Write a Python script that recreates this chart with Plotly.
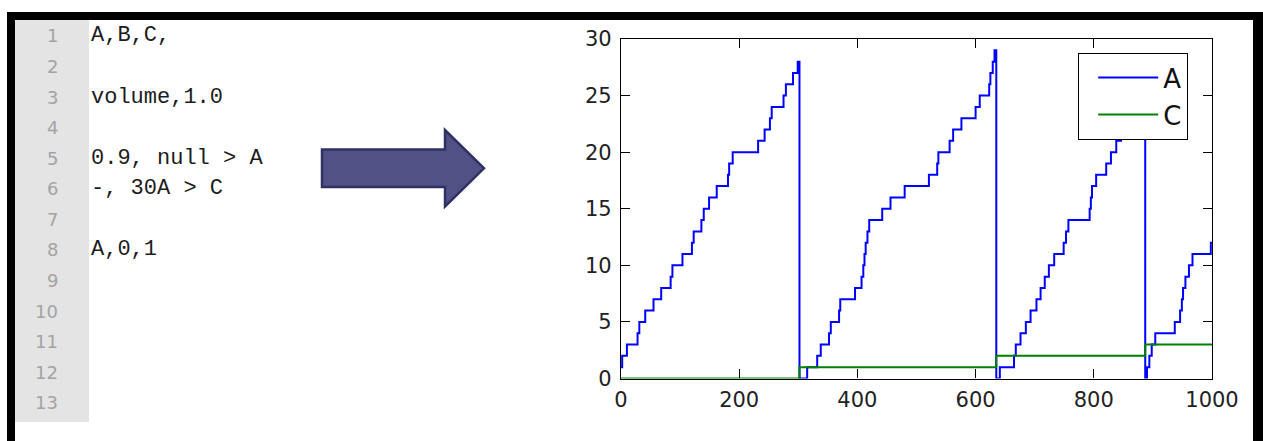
import plotly.graph_objects as go

# ---------------- data ----------------
a_time = [0, 2, 10, 28, 31, 41, 55, 68, 84, 87, 104, 120, 123, 136, 140, 149, 162, 181, 183, 189,
          232, 243, 252, 255, 275, 279, 291, 299, 302,
          315, 332, 338, 352, 355, 369, 371, 396, 407, 410, 412, 414, 417, 420, 442, 456, 480,
          521, 535, 537, 556, 562, 576, 600, 607, 623, 625, 629, 632, 635,
          641, 665, 668, 676, 685, 693, 703, 710, 717, 724, 733, 749, 753, 757, 793, 795, 797,
          804, 821, 829, 838, 846, 853, 859, 865, 870, 875, 880, 887,
          890, 894, 898, 904, 937, 946, 949, 951, 955, 961, 967, 998, 1000]
a_value = [1, 2, 3, 4, 5, 6, 7, 8, 9, 10, 11, 12, 13, 14, 15, 16, 17, 18, 19, 20,
           21, 22, 23, 24, 25, 26, 27, 28, 0,
           1, 2, 3, 4, 5, 6, 7, 8, 9, 10, 11, 12, 13, 14, 15, 16, 17,
           18, 19, 20, 21, 22, 23, 24, 25, 26, 27, 28, 29, 0,
           1, 2, 3, 4, 5, 6, 7, 8, 9, 10, 11, 12, 13, 14, 15, 16, 17,
           18, 19, 20, 21, 22, 23, 24, 25, 26, 27, 28, 0,
           1, 2, 3, 4, 5, 6, 7, 8, 9, 10, 11, 12, 12]
c_time = [0, 302, 635, 887, 1000]
c_value = [0, 1, 2, 3, 3]

x_ticks = [0, 200, 400, 600, 800, 1000]
y_ticks = [0, 5, 10, 15, 20, 25, 30]

code_lines = {1: "A,B,C,", 3: "volume,1.0", 5: "0.9, null > A", 6: "-, 30A > C", 8: "A,0,1"}
n_lines = 13

# ---------------- layout helpers ----------------
W, H = 1263, 441


def px(x):
    return x / W


def py(y):
    return 1 - y / H


fig = go.Figure()
fig.add_trace(go.Scatter(x=a_time, y=a_value, mode="lines", name="A", line_shape="hv",
                         line=dict(color="#0000ff", width=2)))
fig.add_trace(go.Scatter(x=c_time, y=c_value, mode="lines", name="C", line_shape="hv",
                         line=dict(color="#008000", width=2)))

shapes = []
# black frame
for x0, y0, x1, y1 in [(7, 12, 1263, 20), (7, 12, 15, 441), (1253, 12, 1263, 441)]:
    shapes.append(dict(type="rect", xref="paper", yref="paper", x0=px(x0), x1=px(x1),
                       y0=py(y1), y1=py(y0), fillcolor="black", line=dict(width=0), layer="above"))
# editor gutter
shapes.append(dict(type="rect", xref="paper", yref="paper", x0=px(15), x1=px(89),
                   y0=py(422), y1=py(20), fillcolor="#e4e4e4", line=dict(width=0), layer="below"))
# arrow
pts = [(322, 149.5), (445, 149.5), (445, 130), (484, 168.3), (445, 206.5), (445, 187), (322, 187)]
path = "M " + " L ".join(f"{px(x):.5f},{py(y):.5f}" for x, y in pts) + " Z"
shapes.append(dict(type="path", xref="paper", yref="paper", path=path,
                   fillcolor="#505185", line=dict(color="#2f3063", width=2.5), layer="above"))

annotations = []
for i in range(1, n_lines + 1):
    yc = 35 + (i - 1) * 30.56
    annotations.append(dict(xref="paper", yref="paper", x=px(60), y=py(yc + 1), xanchor="right",
                            yanchor="middle", text=str(i), showarrow=False,
                            font=dict(family="DejaVu Sans", size=18, color="#a3a3a3")))
    if i in code_lines:
        annotations.append(dict(xref="paper", yref="paper", x=px(89), y=py(yc + 1), xanchor="left",
                                yanchor="middle", text=code_lines[i], showarrow=False,
                                font=dict(family="Liberation Mono", size=22, color="#1c1c1c")))

fig.update_layout(
    template="none",
    width=W, height=H, autosize=False,
    margin=dict(l=0, r=0, t=0, b=0, pad=0),
    paper_bgcolor="white", plot_bgcolor="white",
    shapes=shapes, annotations=annotations,
    showlegend=True,
    legend=dict(x=px(1078), y=py(53), xanchor="left", yanchor="top",
                bgcolor="white", bordercolor="black", borderwidth=1.2,
                font=dict(family="DejaVu Sans", size=26, color="#111"),
                itemwidth=60, indentation=14, tracegroupgap=0,
                entrywidth=34, entrywidthmode="pixels"),
    xaxis=dict(domain=[px(621), px(1212)], range=[0, 1000], tickvals=x_ticks,
               showline=True, linecolor="black", linewidth=1.2, mirror="ticks",
               ticks="inside", ticklen=9, tickcolor="black", tickwidth=1,
               showgrid=False, zeroline=False, ticklabelstandoff=2, automargin=False,
               tickfont=dict(family="DejaVu Sans", size=21, color="#222")),
    yaxis=dict(domain=[py(378.5), py(39)], range=[0, 30], tickvals=y_ticks,
               showline=True, linecolor="black", linewidth=1.2, mirror="ticks",
               ticks="inside", ticklen=9, tickcolor="black", tickwidth=1,
               showgrid=False, zeroline=False, ticklabelstandoff=4, automargin=False,
               tickfont=dict(family="DejaVu Sans", size=21, color="#222")),
)

css_js = ("var s=document.createElement('style');"
          "s.textContent='html,body{margin:0!important;padding:0!important;overflow:hidden!important;}';"
          "document.head.appendChild(s);")
fig.write_html("out.html", config={"displayModeBar": False, "responsive": False},
               post_script=css_js)
